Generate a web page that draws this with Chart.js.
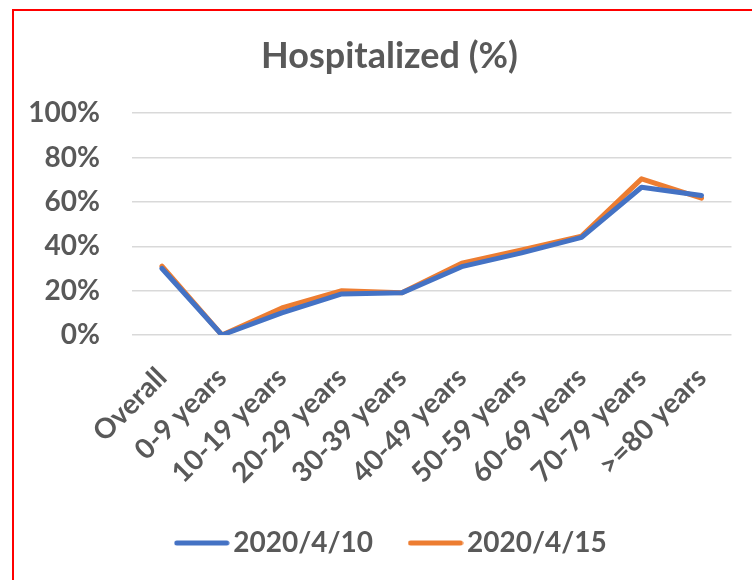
<!DOCTYPE html>
<html><head><meta charset="utf-8">
<script src="https://cdn.jsdelivr.net/npm/chart.js@4"></script>
<style>
html,body{margin:0;padding:0;background:#fff;overflow:hidden}
#wrap{position:relative;width:752px;height:580px}
#frame{position:absolute;left:12px;top:9px;width:800px;height:700px;border:2px solid #ff0000;box-sizing:border-box;pointer-events:none}
</style></head>
<body><div id="wrap"><canvas id="c" width="752" height="580"></canvas><div id="frame"></div></div>
<script>
const categories = ['Overall','0-9 years','10-19 years','20-29 years','30-39 years','40-49 years','50-59 years','60-69 years','70-79 years','>=80 years'];
const seriesNames = ['2020/4/10','2020/4/15'];
const apr10 = [30, 0, 10, 18.5, 19, 30.8, 37, 44, 66.6, 62.9];
const apr15 = [31, 0, 12.2, 20, 19, 32.4, 38.3, 44.6, 70.4, 61.7];
const yTickValues = [0, 20, 40, 60, 80, 100];

const txt = '#595959';
const fam = 'Lato, "Noto Sans", sans-serif';
const colors = ['#4472C4', '#ED7D31'];

function legendLine(color) {
  const cv = document.createElement('canvas');
  cv.width = 56; cv.height = 8;
  const g = cv.getContext('2d');
  g.strokeStyle = color; g.lineWidth = 5; g.lineCap = 'round';
  g.beginPath(); g.moveTo(3, 4); g.lineTo(53, 4); g.stroke();
  return cv;
}

const shiftBoxes = {
  id: 'shiftBoxes',
  afterLayout(chart) {
    const sh = (b, dx) => { if (b) { b.left += dx; b.right += dx; } };
    sh(chart.titleBlock, 8);
    sh(chart.legend, 14);
  }
};

new Chart(document.getElementById('c'), {
  type: 'line',
  data: {
    labels: categories,
    datasets: [
      {label: seriesNames[0], data: apr10, borderColor: colors[0], backgroundColor: colors[0],
       borderWidth: 5, pointRadius: 0, tension: 0, borderCapStyle: 'round', borderJoinStyle: 'round', pointStyle: legendLine(colors[0])},
      {label: seriesNames[1], data: apr15, borderColor: colors[1], backgroundColor: colors[1],
       borderWidth: 5, pointRadius: 0, tension: 0, borderCapStyle: 'round', borderJoinStyle: 'round', pointStyle: legendLine(colors[1])}
    ]
  },
  plugins: [shiftBoxes],
  options: {
    responsive: false,
    animation: false,
    layout: {padding: {left: 26, right: 15, top: 0, bottom: 13}},
    plugins: {
      title: {display: true, text: 'Hospitalized (%)', color: txt,
              font: {family: fam, size: 36, weight: 'bold'}, padding: {top: 35, bottom: 35}},
      legend: {position: 'bottom',
               labels: {color: txt, font: {family: fam, size: 28, weight: 'bold'},
                        usePointStyle: true, pointStyleWidth: 35, boxHeight: 5, padding: 45}},
      tooltip: {enabled: false}
    },
    scales: {
      x: {
        offset: true,
        grid: {display: false, drawTicks: false},
        border: {display: false},
        ticks: {color: txt, font: {family: fam, size: 28, weight: 'bold'}, maxRotation: 45, minRotation: 45, padding: 26, autoSkip: false},
        afterFit: s => { s.height = 149; }
      },
      y: {
        min: 0, max: 100,
        afterBuildTicks: s => { s.ticks = yTickValues.map(v => ({value: v})); },
        grid: {color: '#d9d9d9', lineWidth: 1.5, drawTicks: false},
        border: {display: false},
        ticks: {color: txt, font: {family: fam, size: 28, weight: 'bold'}, padding: 32, callback: v => v + '%'},
        afterFit: s => { s.width = 106; }
      }
    }
  }
});
</script>
</body></html>
